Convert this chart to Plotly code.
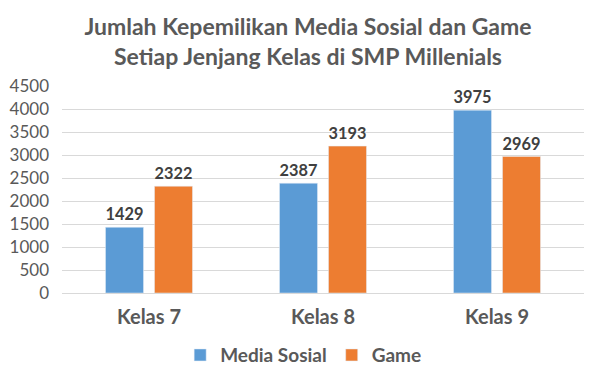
import plotly.graph_objects as go

categories = ["Kelas 7", "Kelas 8", "Kelas 9"]
media_sosial = [1429, 2387, 3975]
game = [2322, 3193, 2969]
y_ticks = [0, 500, 1000, 1500, 2000, 2500, 3000, 3500, 4000, 4500]

FONT = "Lato, 'Open Sans', sans-serif"

fig = go.Figure()
fig.add_trace(go.Bar(
    name="Media Sosial", x=categories, y=media_sosial,
    marker=dict(color="#5B9BD5"),
    text=[str(v) for v in media_sosial], textposition="outside",
    textfont=dict(family=FONT, size=17, color="#404040", weight="bold"),
    cliponaxis=False,
))
fig.add_trace(go.Bar(
    name="Game", x=categories, y=game,
    marker=dict(color="#ED7D31"),
    text=[str(v) for v in game], textposition="outside",
    textfont=dict(family=FONT, size=17, color="#404040", weight="bold"),
    cliponaxis=False,
))

fig.update_layout(
    width=600, height=383,
    margin=dict(l=54, r=24, t=78, b=98, autoexpand=False),
    paper_bgcolor="white", plot_bgcolor="white",
    barmode="group", bargap=0.437, bargroupgap=0.224,
    title=dict(
        text="Jumlah Kepemilikan Media Sosial dan Game<br>Setiap Jenjang Kelas di SMP Millenials",
        x=0.5, xanchor="center", yref="container", y=0.93, yanchor="middle",
        font=dict(family=FONT, size=23, color="#595959", weight="bold"),
    ),
    font=dict(family=FONT, color="#595959"),
    showlegend=True,
    legend=dict(
        orientation="h", x=0.462, xanchor="center", y=-0.30, yanchor="middle",
        font=dict(family=FONT, size=19, color="#595959", weight="bold"),
        traceorder="normal", itemwidth=30,
    ),
    uniformtext=dict(mode=False),
)
fig.update_xaxes(
    showgrid=False, showline=True, linecolor="#D9D9D9", linewidth=1,
    tickfont=dict(family=FONT, size=20, color="#595959", weight="bold"), ticks="",
    ticklabelstandoff=6, automargin=False,
)
fig.update_yaxes(
    range=[0, 4500], tickvals=y_ticks, showgrid=True, gridcolor="#D9D9D9",
    gridwidth=1, zeroline=False, showline=False,
    tickfont=dict(family=FONT, size=17, color="#595959"), ticks="",
    ticklabelstandoff=12, automargin=False,
)

fig.write_html("out.html")
